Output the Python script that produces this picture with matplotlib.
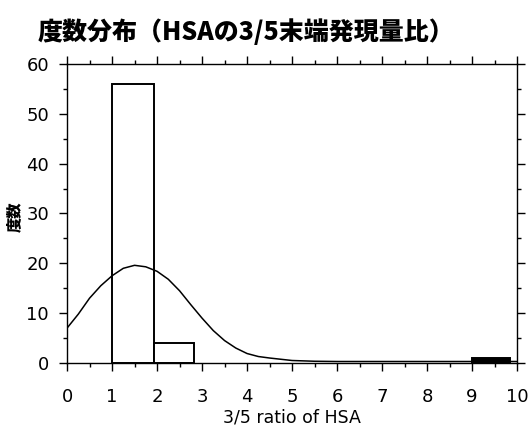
import numpy as np
import matplotlib.pyplot as plt
from matplotlib.ticker import MultipleLocator

plt.rcParams['font.family'] = ['Noto Sans CJK JP', 'DejaVu Sans']

# histogram bars (left edge, width, count)
bar_left = [1.0, 1.93, 9.0]
bar_width = [0.93, 0.89, 0.85]
bar_count = [56, 4, 1]
bar_fill = ['white', 'white', 'black']

# fitted density curve
curve_x = [0, 0.25, 0.5, 0.75, 1.0, 1.25, 1.5, 1.75, 2.0, 2.25, 2.5, 2.75,
           3.0, 3.25, 3.5, 3.75, 4.0, 4.25, 4.5, 5.0, 5.5, 6, 7, 8, 9, 10]
curve_y = [7, 9.8, 13.0, 15.5, 17.5, 19.0, 19.6, 19.3, 18.4, 16.8, 14.5, 11.7,
           9.0, 6.5, 4.5, 3.0, 1.9, 1.3, 1.0, 0.5, 0.35, 0.3, 0.3, 0.3, 0.3, 0.3]

fig = plt.figure(figsize=(5.32, 4.34), dpi=100)
ax = fig.add_axes([0.126, 0.1636, 0.846, 0.689])

ax.bar(bar_left, bar_count, width=bar_width, align='edge',
       color=bar_fill, edgecolor='black', linewidth=1.4)
ax.plot(curve_x, curve_y, color='black', linewidth=1.1)

ax.set_xlim(0, 10)
ax.set_ylim(0, 60)
ax.xaxis.set_major_locator(MultipleLocator(1))
ax.xaxis.set_minor_locator(MultipleLocator(0.5))
ax.yaxis.set_major_locator(MultipleLocator(10))
ax.yaxis.set_minor_locator(MultipleLocator(5))
ax.tick_params(which='both', direction='out', top=True, right=True,
               labeltop=False, labelright=False, width=1.0)
ax.tick_params(which='major', length=6, labelsize=13)
ax.tick_params(which='minor', length=3)
ax.tick_params(axis='x', which='major', pad=12)
ax.tick_params(axis='y', which='major', pad=7)
for lab in ax.get_xticklabels() + ax.get_yticklabels():
    lab.set_family('DejaVu Sans')
for s in ax.spines.values():
    s.set_linewidth(1.0)

ax.set_xlabel('3/5 ratio of HSA', fontsize=12.5, family='DejaVu Sans',
              labelpad=2)

fig.text(38 / 532, 1 - 32 / 434, '度数分布（HSAの3/5末端発現量比）',
         fontsize=18, fontweight='heavy', va='center', ha='left')
fig.text(14 / 532, 1 - 217 / 434, '度数', rotation=90, fontsize=11,
         fontweight='heavy', va='center', ha='center')

fig.savefig('out.png', dpi=100)
